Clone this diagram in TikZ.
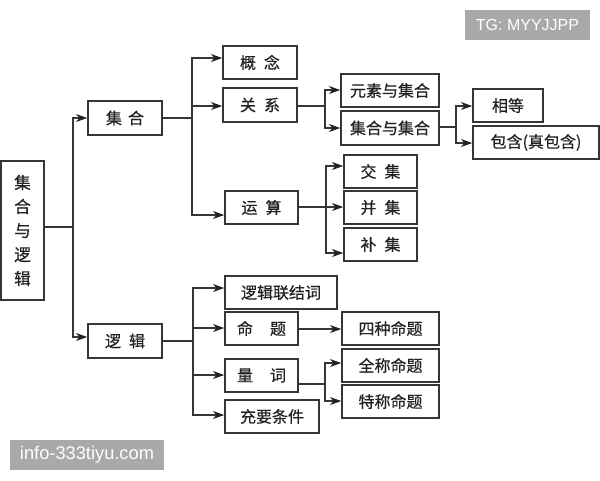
\documentclass[tikz,border=0pt]{standalone}
\usepackage{fontspec}
\setmainfont[FakeBold=0.5]{Noto Sans CJK SC}
\newfontfamily\wmfont{Liberation Sans}
\usetikzlibrary{arrows.meta}
\definecolor{ink}{HTML}{222222}
\definecolor{rule}{HTML}{363636}
\definecolor{wmgrey}{HTML}{A9A9A9}
\tikzset{
  boxs/.style={draw=rule,line width=1.15pt,fill=white,inner sep=0pt,text=ink,font=\fontsize{12}{14}\selectfont},
  conn/.style={draw=rule,line width=1.15pt},
  arr/.style={conn,-{Stealth[length=8.5pt,width=6pt,color=ink]}},
  wm/.style={fill=wmgrey,text=white,inner sep=0pt,font=\wmfont\fontsize{13.7}{15}\selectfont}
}
\newcommand{\boxnode}[7][boxs]{%
  \pgfmathsetmacro\bw{(#5-#3)*.75}\pgfmathsetmacro\bh{(#6-#4)*.75}%
  \node[#1,minimum width=\bw pt,minimum height=\bh pt] (#2) at ({(#3+#5)/2},{(#4+#6)/2}) {#7};}
\newcommand{\gapA}{\hspace{4.5pt}}
\newcommand{\gapB}{\hspace{6pt}}
\newcommand{\gapC}{\hspace{12.75pt}}
\begin{document}
\begin{tikzpicture}[x=.75pt,y=-.75pt]
\useasboundingbox (0,0) rectangle (600,480);
\fill[white] (0,0) rectangle (600,480);
% nodes
\boxnode{root}{1}{161}{44}{300}{\parbox{16pt}{\centering\fontsize{12.5}{18}\selectfont 集\\合\\与\\逻\\辑}}
\boxnode{sets}{88}{101}{162}{135}{集\gapA 合}
\boxnode{logic}{88}{324}{162}{358}{逻\gapB 辑}
\boxnode{concept}{223}{46}{297}{79}{概\gapB 念}
\boxnode{relation}{223}{88}{297}{122}{关\gapB 系}
\boxnode{operation}{225}{191}{298}{224}{运\gapB 算}
\boxnode{elemset}{341}{74}{439}{107}{元素与集合}
\boxnode{setset}{341}{111}{439}{145}{集合与集合}
\boxnode{equal}{473}{89}{543}{122}{相等}
\boxnode{contain}{473}{126}{599}{159}{包含(真包含)}
\boxnode{inter}{344}{155}{417}{188}{交\gapB 集}
\boxnode{union}{344}{191}{417}{224}{并\gapB 集}
\boxnode{compl}{344}{228}{417}{261}{补\gapB 集}
\boxnode{connective}{225}{276}{337}{309}{逻辑联结词}
\boxnode{prop}{225}{312}{298}{345}{命\gapC 题}
\boxnode{fourprop}{342}{312}{439}{345}{四种命题}
\boxnode{quant}{225}{359}{298}{392}{量\gapC 词}
\boxnode{univ}{342}{349}{439}{382}{全称命题}
\boxnode{exist}{342}{385}{439}{418}{特称命题}
\boxnode{suff}{225}{400}{319}{433}{充要条件}
\boxnode[wm]{wmtop}{465}{10}{590}{40}{\fontsize{12}{15}\selectfont TG: MYYJJPP}
\boxnode[wm]{wmbot}{10}{440}{164}{470}{info-333tiyu.com}
% junctions
\coordinate (j0) at (73,227);
\coordinate (j1) at (192,118);
\coordinate (j2) at (325,106);
\coordinate (j3) at (456,127);
\coordinate (j4) at (326,207);
\coordinate (j5) at (193,341);
\coordinate (j6) at (325,384);
% connectors
\draw[conn] (root.east |- j0) -- (j0);
\draw[arr] (j0) |- (sets.west);
\draw[arr] (j0) |- (logic.west |- 0,337);
\draw[conn] (sets.east |- j1) -- (j1);
\draw[arr] (j1) |- (concept.west |- 0,58);
\draw[arr] (j1) |- (relation.west |- 0,106);
\draw[arr] (j1) |- (operation.west |- 0,215);
\draw[conn] (relation.east |- j2) -- (j2);
\draw[arr] (j2) |- (elemset.west |- 0,90);
\draw[arr] (j2) |- (setset.west |- 0,128);
\draw[conn] (setset.east |- j3) -- (j3);
\draw[arr] (j3) |- (equal.west |- 0,106);
\draw[arr] (j3) |- (contain.west |- 0,143);
\draw[arr] (operation.east |- j4) -- (union.west |- j4);
\draw[arr] (j4) |- (inter.west |- 0,166);
\draw[arr] (j4) |- (compl.west |- 0,253);
\draw[conn] (logic.east |- j5) -- (j5);
\draw[arr] (j5) |- (connective.west |- 0,288);
\draw[arr] (j5) |- (prop.west |- 0,328);
\draw[arr] (j5) |- (quant.west |- 0,375);
\draw[arr] (j5) |- (suff.west |- 0,415);
\draw[arr] (prop.east |- 0,329) -- (fourprop.west |- 0,329);
\draw[conn] (quant.east |- j6) -- (j6);
\draw[arr] (j6) |- (univ.west |- 0,363);
\draw[arr] (j6) |- (exist.west |- 0,401);
\end{tikzpicture}
\end{document}
